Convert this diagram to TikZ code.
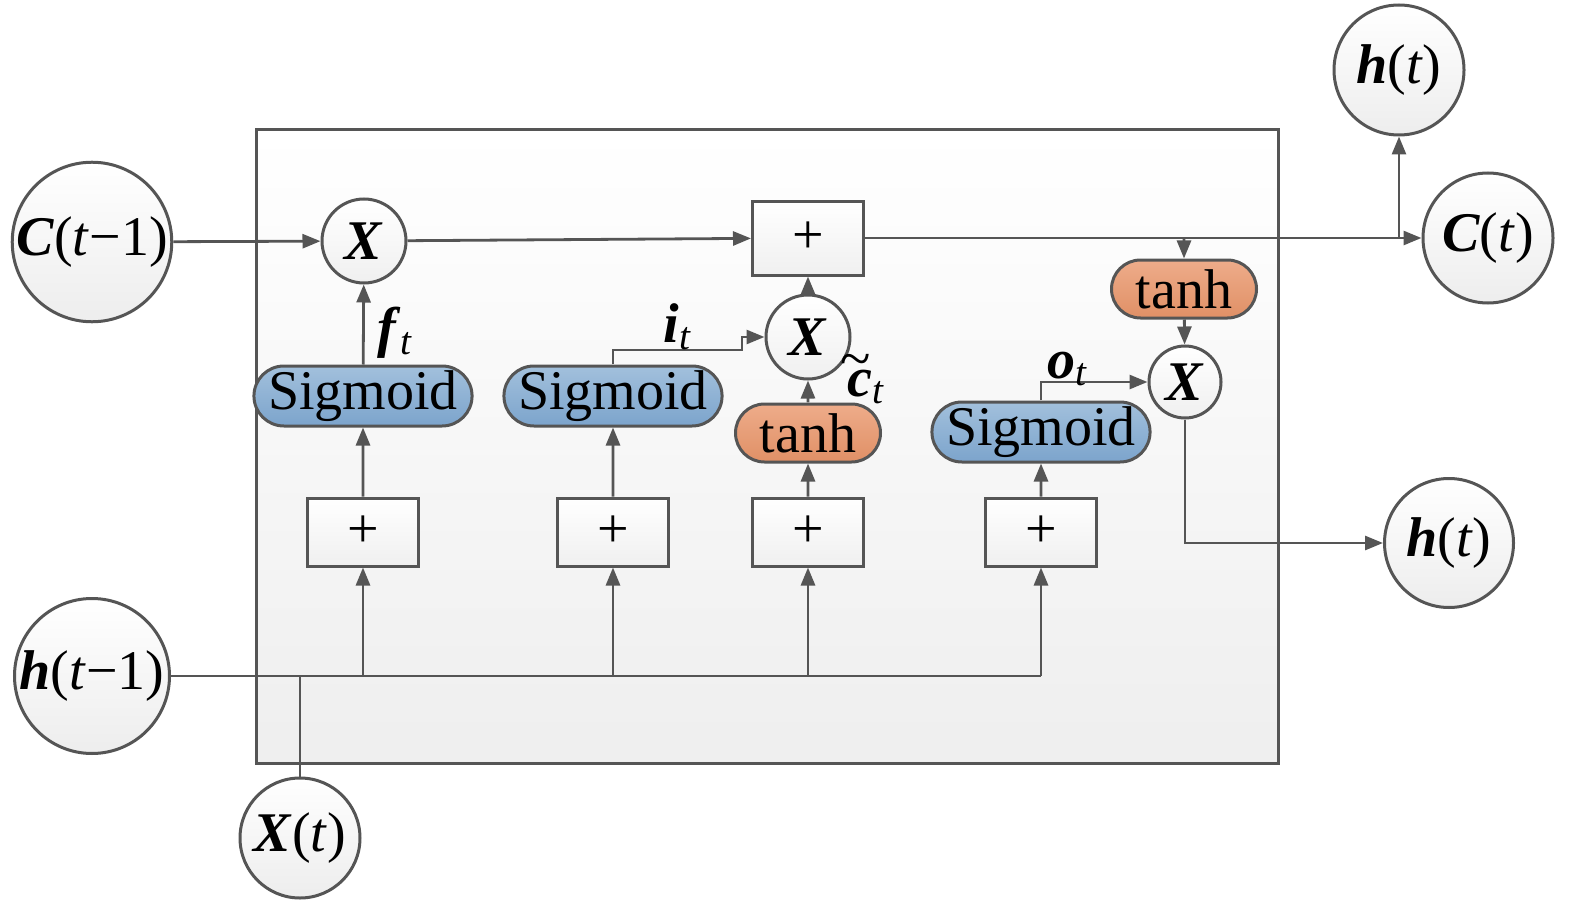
\documentclass[tikz,border=0pt]{standalone}
\usepackage{fontspec}
\setmainfont{Liberation Serif}
\usetikzlibrary{arrows.meta,shapes.misc}
\definecolor{linegray}{RGB}{85,85,85}
\definecolor{sigtop}{RGB}{162,192,220}
\definecolor{sigbot}{RGB}{124,164,204}
\definecolor{tanhtop}{RGB}{238,172,138}
\definecolor{tanhbot}{RGB}{224,144,102}
\newcommand{\bi}[1]{\textbf{\textit{#1}}}
\tikzset{
  ioc/.style={circle, draw=linegray, line width=1.5pt, top color=white, bottom color=gray!14, inner sep=0pt, font=\fontsize{28}{30}\selectfont},
  mulc/.style={circle, draw=linegray, line width=1.5pt, top color=white, bottom color=gray!12, inner sep=0pt, font=\fontsize{28}{30}\selectfont},
  addbox/.style={rectangle, draw=linegray, line width=1.5pt, top color=white, bottom color=gray!12, minimum width=55.5pt, minimum height=34pt, inner sep=0pt, font=\fontsize{28}{30}\selectfont},
  sigbox/.style={rounded rectangle, draw=linegray, line width=1.5pt, top color=sigtop, bottom color=sigbot, minimum width=103.5pt, minimum height=30pt, inner sep=0pt, font=\fontsize{28}{30}\selectfont},
  tanhbox/.style={rounded rectangle, draw=linegray, line width=1.5pt, top color=tanhtop, bottom color=tanhbot, minimum width=72.5pt, minimum height=29pt, inner sep=0pt, font=\fontsize{28}{30}\selectfont},
  lbl/.style={font=\fontsize{28}{30}\selectfont, inner sep=0pt},
  conn/.style={draw=linegray, line width=1.4pt},
  arr/.style={conn, -{Triangle[length=9pt,width=7pt]}}
}
\begin{document}
\begin{tikzpicture}[x=0.5pt,y=-0.5pt]
\useasboundingbox (0,0) rectangle (1575,904);

% cell body
\draw[draw=linegray, line width=1.5pt, top color=white, bottom color=gray!13] (256,130) rectangle (1278,763);

% inputs and outputs
\node[ioc, minimum size=77.5pt] (cprev) at (92,242) {\bi{C}(\textit{t}−1)};
\node[ioc, minimum size=77.5pt] (hprev) at (92,676) {\bi{h}(\textit{t}−1)};
\node[ioc, minimum size=60pt] (xin) at (300,838) {\bi{X}(\textit{t})};
\node[ioc, minimum size=65pt] (hup) at (1399,70) {\bi{h}(\textit{t})};
\node[ioc, minimum size=65pt] (cnext) at (1488,238) {\bi{C}(\textit{t})};
\node[ioc, minimum size=64.5pt] (hout) at (1449,543) {\bi{h}(\textit{t})};

% gates
\node[mulc, minimum size=42pt] (mulf) at (364,241) {\bi{X}};
\node[mulc, minimum size=42pt] (muli) at (808,337) {\bi{X}};
\node[mulc, minimum size=36pt] (mulo) at (1185,382) {\bi{X}};
\node[addbox, minimum height=37pt] (addc) at (808,238) {+};
\node[addbox] (addf) at (363,532) {+};
\node[addbox] (addi) at (613,532) {+};
\node[addbox] (addg) at (808,532) {+};
\node[addbox] (addo) at (1041,532) {+};
\node[sigbox] (sigf) at (363,396) {Sigmoid};
\node[sigbox] (sigi) at (613,396) {Sigmoid};
\node[sigbox] (sigo) at (1041,432) {Sigmoid};
\node[tanhbox] (tanhg) at (808,433) {tanh};
\node[tanhbox] (tanhc) at (1184,289) {tanh};

\coordinate (jt) at (1184,238);
\coordinate (jh) at (1399,238);
\coordinate (ijog) at (742,350);

% cell state
\draw[arr] (cprev) -- (mulf);
\draw[arr] (mulf) -- (addc);
\draw[conn] (addc) -- (jh);
\draw[arr] (jh) -- (cnext);
\draw[arr] (jh) -- (hup);
\draw[arr] (jt) -- (tanhc);
\draw[arr] (tanhc) -- (mulo);
\draw[arr] (mulo) |- (hout);

% inputs
\draw[conn] (hprev) -- (hprev -| addo);
\draw[conn] (xin) -- (xin |- hprev);
\draw[arr] (hprev -| addf) -- (addf);
\draw[arr] (hprev -| addi) -- (addi);
\draw[arr] (hprev -| addg) -- (addg);
\draw[arr] (hprev -| addo) -- (addo);
\draw[arr] (addf) -- (sigf);
\draw[arr] (addi) -- (sigi);
\draw[arr] (addg) -- (tanhg);
\draw[arr] (addo) -- (sigo);

% gate outputs
\draw[arr] (sigf) -- (mulf);
\draw[arr] (sigi) |- (ijog) |- (muli);
\draw[arr] (tanhg) -- (muli);
\draw[arr] (muli) -- (addc);
\draw[arr] (sigo) |- (mulo);

\node[lbl] (lf) at (395,333) {\bi{f}\textsubscript{\textit{t}}};
\node[lbl] (li) at (678,327) {\bi{i}\textsubscript{\textit{t}}};
\node[lbl] (lc) at (866,379) {\bi{c}\llap{\raisebox{0.34em}{\textmd{\~{}}}\kern0.03em}\textsubscript{\textit{t}}};
\node[lbl] (lo) at (1068,369) {\bi{o}\textsubscript{\textit{t}}};
\end{tikzpicture}
\end{document}
